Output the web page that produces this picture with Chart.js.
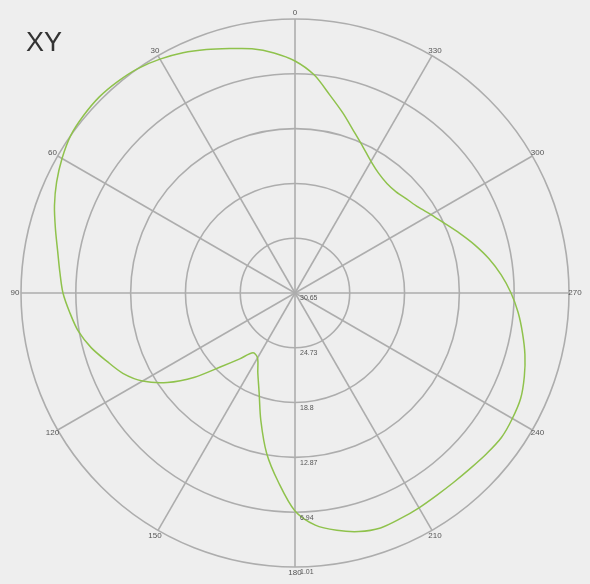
<!DOCTYPE html>
<html>
<head>
<meta charset="utf-8">
<script src="https://cdn.jsdelivr.net/npm/chart.js@4"></script>
<style>
  html, body { margin: 0; padding: 0; background: #eeeeee; }
  #wrap { position: relative; width: 590px; height: 584px; background: #eeeeee; }
  #title { position: absolute; left: 26px; top: 27px; font-family: "Liberation Sans", Arial, sans-serif; font-size: 27px; color: #333333; }
</style>
</head>
<body>
<div id="wrap">
  <canvas id="c"></canvas>
  <div id="title">XY</div>
</div>
<script>
// Angles (degrees, counter-clockwise from top) and the series value at each angle
const angles = [0,5,10,15,20,25,30,35,40,45,50,55,60,65,70,75,80,85,90,95,100,105,110,115,120,125,130,135,140,145,150,155,160,165,170,175,180,185,190,195,200,205,210,215,220,225,230,235,240,245,250,255,260,265,270,275,280,285,290,295,300,305,310,315,320,325,330,335,340,345,350,355];
const values = [5.55,4.58,3.82,3.28,2.63,1.98,1.44,1.01,0.79,0.68,0.79,1.01,1.55,2.20,2.96,3.82,4.58,5.12,5.55,6.20,6.85,7.82,9.01,10.10,11.61,13.77,16.48,19.40,21.35,22.75,22.54,21.13,19.29,16.37,13.02,10.10,7.07,5.44,4.58,3.93,3.60,3.71,3.82,3.93,3.93,3.82,3.60,3.39,3.50,3.71,4.25,4.90,5.66,6.42,7.28,8.26,9.34,10.53,11.72,12.80,13.67,14.42,14.86,15.18,15.18,14.86,14.21,13.23,12.04,10.53,8.91,6.96];
// Angular axis labels (every 30 degrees, counter-clockwise from top)
const angleLabels = ['0','30','60','90','120','150','180','210','240','270','300','330'];
// Radial tick labels, center outward (axis is reversed)
const tickValues = [30.65, 24.73, 18.8, 12.87, 6.94, 1.01];
const tickLabels = ['30.65', '24.73', '18.8', '12.87', '6.94', '1.01'];

// Chart.js radar runs clockwise: build the ordered table from the arrays above
const n = angles.length;
const step = 360 / n;
const cwLabels = [];
const cwData = [];
for (let i = 0; i < n; i++) {
  const ccw = (360 - i * step) % 360;
  const k = angles.indexOf(ccw);
  cwData.push(values[k]);
  const lk = angleLabels.indexOf(String(ccw));
  cwLabels.push(lk >= 0 ? angleLabels[lk] : '');
}

const labelPlugin = {
  id: 'polarText',
  afterDraw(chart) {
    const s = chart.scales.r;
    const ctx = chart.ctx;
    ctx.save();
    ctx.fillStyle = '#555555';
    ctx.font = '8px "Liberation Sans", Arial, sans-serif';
    ctx.textAlign = 'center';
    ctx.textBaseline = 'middle';
    cwLabels.forEach((lab, i) => {
      if (!lab) return;
      const p = s.getPointPosition(i, s.drawingArea + 6);
      ctx.fillText(lab, p.x, p.y);
    });
    ctx.textAlign = 'left';
    ctx.textBaseline = 'top';
    ctx.font = '7px "Liberation Sans", Arial, sans-serif';
    tickValues.forEach((v, i) => {
      const d = s.getDistanceFromCenterForValue(v);
      ctx.fillText(tickLabels[i], s.xCenter + 5, s.yCenter + d + 2);
    });
    ctx.restore();
  }
};

new Chart(document.getElementById('c'), {
  type: 'radar',
  data: {
    labels: cwLabels,
    datasets: [{
      data: cwData,
      borderColor: '#8fc24c',
      borderWidth: 1.5,
      backgroundColor: 'transparent',
      fill: false,
      pointRadius: 0,
      tension: 0.3
    }]
  },
  options: {
    responsive: true,
    maintainAspectRatio: false,
    animation: false,
    layout: { padding: { left: 21, right: 21, top: 19, bottom: 17 } },
    plugins: { legend: { display: false }, tooltip: { enabled: false }, title: { display: false } },
    scales: {
      r: {
        min: 1.01,
        max: 30.65,
        reverse: true,
        backgroundColor: '#ffffff',
        afterBuildTicks: (sc) => { sc.ticks = tickValues.map(v => ({ value: v })); },
        ticks: { display: false },
        pointLabels: { display: false },
        grid: { circular: true, color: '#adadad', lineWidth: 1.6 },
        angleLines: {
          display: true,
          color: '#adadad',
          lineWidth: (c) => (c.index % 6 === 0 ? 1.6 : 0)
        }
      }
    }
  },
  plugins: [labelPlugin]
});
</script>
</body>
</html>
